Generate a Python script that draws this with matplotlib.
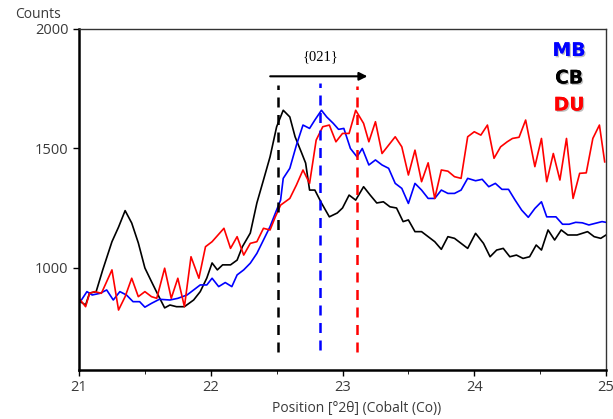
import matplotlib as mpl
mpl.use('Agg')
import matplotlib.pyplot as plt
import matplotlib.patheffects as pe

# values, position in deg 2theta and counts
cb_x = [21.01, 21.05, 21.08, 21.13, 21.18, 21.25, 21.30, 21.35, 21.40, 21.45, 21.50, 21.55,
        21.60, 21.65, 21.69, 21.74, 21.80, 21.87, 21.92, 21.97, 22.01, 22.05, 22.09, 22.15,
        22.20, 22.24, 22.30, 22.35, 22.40, 22.45, 22.50, 22.55, 22.60, 22.64, 22.69, 22.72,
        22.75, 22.79, 22.84, 22.90, 22.96, 23.00, 23.05, 23.10, 23.16, 23.21, 23.26, 23.31,
        23.36, 23.41, 23.46, 23.50, 23.55, 23.60, 23.65, 23.70, 23.75, 23.80, 23.85, 23.90,
        23.95, 24.01, 24.07, 24.12, 24.17, 24.22, 24.27, 24.32, 24.37, 24.42, 24.47, 24.51,
        24.56, 24.61, 24.66, 24.71, 24.78, 24.86, 24.91, 24.96, 25.00]
cb_y = [859, 845, 895, 901, 992, 1110, 1171, 1240, 1188, 1105, 1000, 943,
        887, 833, 845, 838, 838, 866, 901, 958, 1021, 992, 1013, 1013,
        1033, 1089, 1146, 1272, 1368, 1465, 1591, 1660, 1632, 1549, 1481, 1439,
        1326, 1326, 1272, 1214, 1230, 1251, 1305, 1284, 1340, 1305, 1272, 1277,
        1256, 1251, 1194, 1201, 1152, 1152, 1131, 1110, 1078, 1131, 1124, 1103,
        1082, 1145, 1103, 1047, 1075, 1082, 1047, 1054, 1040, 1047, 1096, 1075,
        1159, 1117, 1159, 1138, 1138, 1152, 1131, 1124, 1138]

mb_x = [21.01, 21.06, 21.10, 21.16, 21.21, 21.26, 21.31, 21.36, 21.41, 21.46, 21.50, 21.55,
        21.61, 21.69, 21.75, 21.82, 21.87, 21.92, 21.97, 22.01, 22.06, 22.11, 22.16, 22.20,
        22.25, 22.30, 22.35, 22.40, 22.45, 22.49, 22.53, 22.55, 22.60, 22.65, 22.70, 22.75,
        22.79, 22.84, 22.88, 22.93, 22.97, 23.01, 23.06, 23.11, 23.15, 23.20, 23.25, 23.30,
        23.35, 23.40, 23.45, 23.50, 23.55, 23.60, 23.65, 23.70, 23.75, 23.80, 23.85, 23.90,
        23.95, 24.01, 24.06, 24.11, 24.16, 24.21, 24.26, 24.31, 24.36, 24.41, 24.46, 24.51,
        24.55, 24.62, 24.67, 24.72, 24.77, 24.82, 24.87, 24.92, 24.97, 25.00]
mb_y = [859, 901, 887, 894, 908, 866, 901, 887, 859, 859, 836, 852,
        869, 866, 873, 887, 908, 929, 929, 957, 922, 939, 922, 971,
        992, 1020, 1061, 1117, 1173, 1229, 1284, 1375, 1417, 1514, 1598, 1584,
        1619, 1660, 1632, 1605, 1580, 1584, 1500, 1465, 1500, 1431, 1452, 1431,
        1417, 1354, 1333, 1270, 1354, 1326, 1291, 1291, 1326, 1312, 1312, 1326,
        1375, 1365, 1371, 1340, 1354, 1329, 1329, 1284, 1242, 1212, 1249, 1277,
        1214, 1214, 1183, 1183, 1191, 1189, 1180, 1187, 1194, 1191]

du_x = [21.01, 21.05, 21.08, 21.12, 21.17, 21.25, 21.30, 21.35, 21.40, 21.45, 21.50, 21.55,
        21.59, 21.65, 21.70, 21.75, 21.80, 21.85, 21.91, 21.96, 22.01, 22.10, 22.15, 22.20,
        22.25, 22.30, 22.35, 22.40, 22.45, 22.49, 22.53, 22.60, 22.65, 22.70, 22.75, 22.80,
        22.85, 22.90, 22.95, 23.00, 23.05, 23.10, 23.16, 23.20, 23.25, 23.30, 23.35, 23.40,
        23.45, 23.50, 23.55, 23.60, 23.65, 23.70, 23.75, 23.80, 23.85, 23.90, 23.95, 24.00,
        24.05, 24.10, 24.15, 24.20, 24.25, 24.29, 24.34, 24.39, 24.46, 24.51, 24.55, 24.60,
        24.65, 24.70, 24.75, 24.80, 24.85, 24.90, 24.95, 24.99]
du_y = [866, 838, 894, 901, 894, 992, 824, 880, 957, 880, 901, 880,
        873, 999, 873, 957, 838, 1047, 957, 1089, 1110, 1166, 1082, 1131,
        1054, 1103, 1110, 1166, 1159, 1214, 1263, 1291, 1347, 1410, 1354, 1535,
        1591, 1598, 1528, 1563, 1563, 1660, 1605, 1528, 1612, 1479, 1514, 1549,
        1507, 1389, 1493, 1361, 1440, 1291, 1410, 1405, 1382, 1375, 1549, 1570,
        1556, 1598, 1459, 1507, 1528, 1542, 1547, 1619, 1424, 1542, 1361, 1479,
        1368, 1542, 1291, 1396, 1398, 1542, 1598, 1444]

peak_pos = [22.51, 22.83, 23.11]
peak_top = [1765, 1775, 1761]
peak_bottom = [650, 657, 649]
peak_colors = ['black', 'blue', 'red']

mydpi = 100
fig = plt.figure(figsize=(613 / mydpi, 419 / mydpi), dpi=mydpi)
ax = fig.add_axes([0.1289, 0.1169, 0.8597, 0.8139])
txt_col = '#3a3a3a'
ui_font = 'Open Sans'

ax.plot(cb_x, cb_y, color='black', lw=1.2)
ax.plot(mb_x, mb_y, color='blue', lw=1.2)
ax.plot(du_x, du_y, color='red', lw=1.2)

for xpos, top, bot, col in zip(peak_pos, peak_top, peak_bottom, peak_colors):
    ax.plot([xpos, xpos], [bot, top], color=col, lw=1.8, ls=(0, (4, 3)))

ax.annotate('', xy=(23.21, 1802), xytext=(22.43, 1802),
            arrowprops=dict(arrowstyle='-|>', color='black', lw=1.5, mutation_scale=12))
ax.text(22.83, 1883, '{021}', ha='center', va='center', fontsize=10.5, family='Liberation Serif')

shadow = [pe.withSimplePatchShadow(offset=(1, -1), shadow_rgbFace='gray', alpha=0.5), pe.Normal()]
for label, col, ypos in zip(['MB', 'CB', 'DU'], ['blue', 'black', 'red'], [1910, 1795, 1682]):
    ax.text(24.72, ypos, label, color=col, fontsize=13.5, fontweight='bold',
            ha='center', va='center', path_effects=shadow)

ax.set_xlim(21, 25)
ax.set_ylim(573, 2000)
ax.set_xticks([21, 22, 23, 24, 25])
ax.set_xticks([21.5, 22.5, 23.5, 24.5], minor=True)
ax.set_yticks([1000, 1500, 2000])
ax.tick_params(axis='both', direction='out', labelsize=10.5, labelcolor=txt_col, length=4, width=1)
ax.tick_params(axis='x', which='minor', length=3)
for lab in ax.get_xticklabels() + ax.get_yticklabels():
    lab.set_family(ui_font)
for side in ['left', 'bottom']:
    ax.spines[side].set_linewidth(1.8)
for side in ['top', 'right']:
    ax.spines[side].set_linewidth(1.0)
    ax.spines[side].set_color('#333333')

fig.text(0.582, 0.026, 'Position [°2θ] (Cobalt (Co))', fontsize=10, color=txt_col,
         ha='center', va='center', family=ui_font)
fig.text(0.025, 0.965, 'Counts', fontsize=10, color=txt_col, ha='left', va='center', family=ui_font)

plt.savefig('out.png', dpi=mydpi)
plt.close(fig='all')
